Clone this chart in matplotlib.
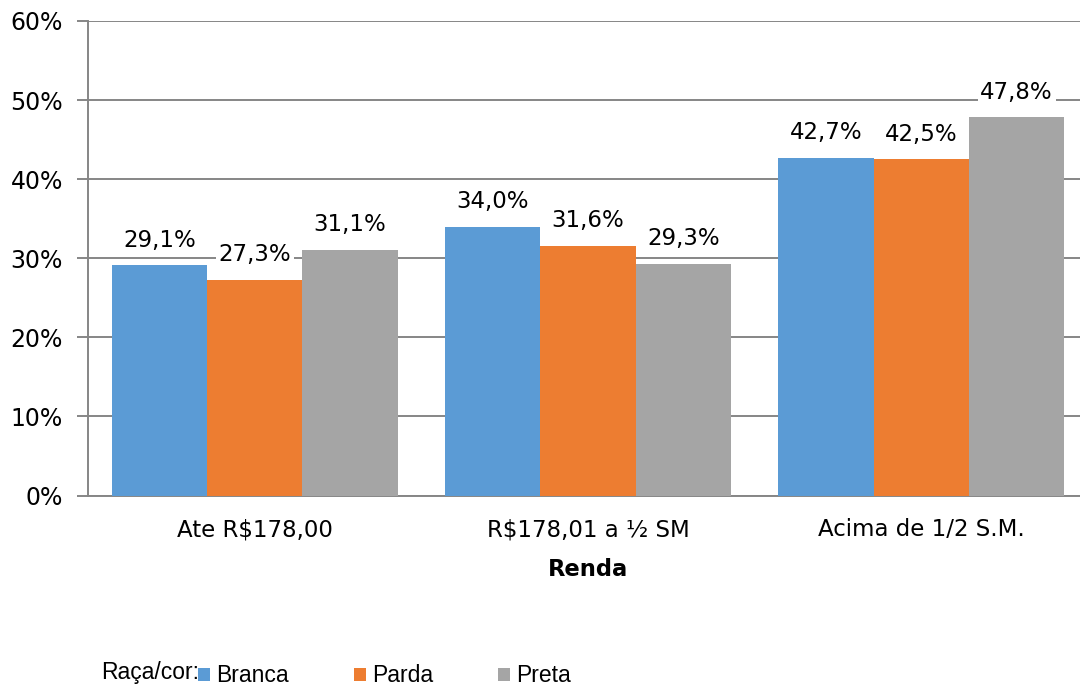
import matplotlib.pyplot as plt
import numpy as np

plt.rcParams['font.family'] = ['DejaVu Sans']

# dados
categorias = ["Ate R$178,00", "R$178,01 a ½ SM", "Acima de 1/2 S.M."]
branca = [29.1, 34.0, 42.7]
parda = [27.3, 31.6, 42.5]
preta = [31.1, 29.3, 47.8]
series = ["Branca", "Parda", "Preta"]
cores = ["#5b9bd5", "#ed7d31", "#a5a5a5"]
yticks = [0, 10, 20, 30, 40, 50, 60]

fig = plt.figure(figsize=(10.8, 6.89), dpi=100)
ax = fig.add_axes([88/1080, 1 - 495.5/689, 1000/1080, (495.5 - 21)/689])

x = np.arange(len(categorias))
w = 0.286
valores = [branca, parda, preta]

for i, (nome, vals, cor) in enumerate(zip(series, valores, cores)):
    pos = x + (i - 1) * w
    ax.bar(pos, vals, w, color=cor, label=nome, zorder=3)
    for xp, v in zip(pos, vals):
        ax.annotate(f"{v:.1f}%".replace(".", ","), (xp, v), xytext=(0, 18),
                    textcoords="offset points", ha="center", va="center",
                    fontsize=16.5, zorder=5,
                    bbox=dict(facecolor="white", edgecolor="none", pad=2))

ax.set_xlim(-0.5, 2.5)
ax.set_ylim(0, 60)
ax.set_yticks(yticks)
ax.set_yticklabels([f"{t}%" for t in yticks], fontsize=17)
ax.set_xticks(x)
ax.set_xticklabels(categorias, fontsize=16.5)
ax.tick_params(axis="x", length=0, pad=16.5)
ax.tick_params(axis="y", length=8, width=1.4, color="#868686", pad=10)

ax.grid(axis="y", color="#868686", linewidth=1.4, zorder=0)
for s in ["top", "right"]:
    ax.spines[s].set_visible(False)
for s in ["left", "bottom"]:
    ax.spines[s].set_color("#868686")
    ax.spines[s].set_linewidth(1.4)

ax.set_xlabel("Renda", fontsize=16.3, fontweight="bold", labelpad=12)

# legenda
fig.text(101/1080, 1 - 672/689, "Raça/cor:", fontsize=16.5, va="center", ha="left",
         family="Liberation Sans")
fig.legend(loc="center left", bbox_to_anchor=(198/1080, 1 - 676/689), ncol=3,
           frameon=False, prop={"family": "Liberation Sans", "size": 16.5},
           handlelength=0.52, handleheight=0.52, handletextpad=0.26,
           columnspacing=2.85, borderpad=0, borderaxespad=0)

fig.savefig("out.png", dpi=100)
